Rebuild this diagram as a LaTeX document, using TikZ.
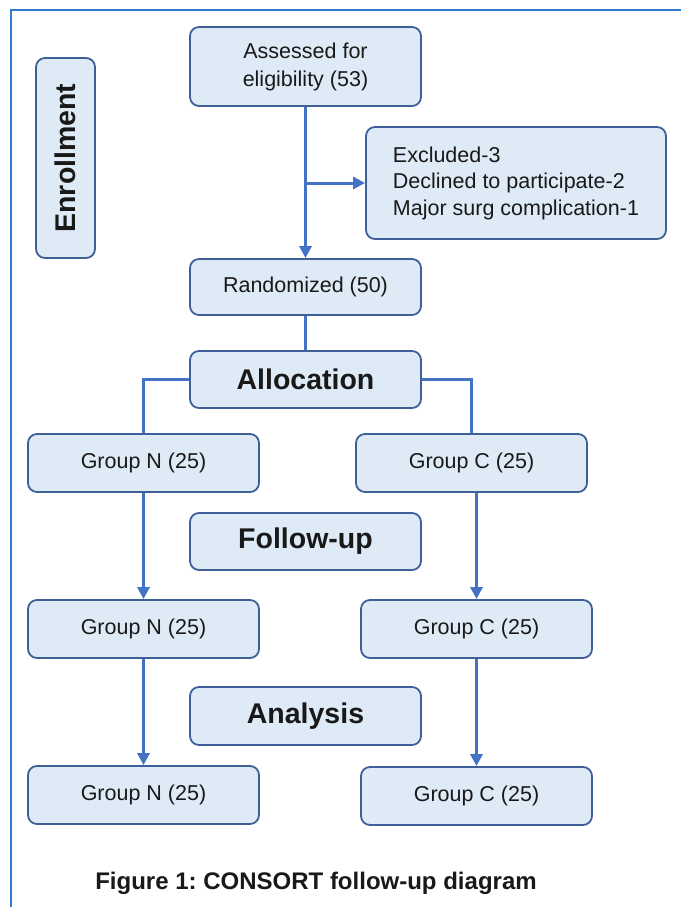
\documentclass[tikz,border=0pt]{standalone}
\usepackage{fontspec}
\setmainfont{Liberation Sans}
\usetikzlibrary{arrows.meta}
\definecolor{boxfill}{HTML}{DEEBF7}
\definecolor{boxline}{HTML}{3F5F98}
\definecolor{conn}{HTML}{4472C4}
\definecolor{framec}{HTML}{2E7BCF}
\frenchspacing
\tikzset{
  box/.style={draw=boxline, line width=1.8pt, fill=boxfill, rounded corners=9pt,
    minimum width=231pt, minimum height=58pt, inner sep=0pt,
    font=\fontsize{21.5}{28}\selectfont, text=black!90},
  headbox/.style={box, font=\fontsize{28.5}{32}\selectfont\bfseries},
  conline/.style={draw=conn, line width=3pt},
  arr/.style={conline, -{Triangle[length=12pt,width=12pt]}},
}
\begin{document}
\begin{tikzpicture}[x=1pt,y=-1pt]
\useasboundingbox (0,0) rectangle (681,907);
\fill[white] (0,0) rectangle (681,907);
\draw[framec, line width=1.5pt] (681,10) -- (11,10) -- (11,907);

\node[headbox, minimum width=200pt, minimum height=59pt, rotate=90] (enr) at (65.5,158) {Enrollment};
\node[box, minimum height=79pt, align=center] (ass) at (305.5,66.5) {Assessed for\\eligibility (53)};
\node[box, minimum width=300pt, minimum height=112pt, align=left,
      font=\fontsize{21.5}{26.5}\selectfont] (exc) at (516,183)
      {Excluded-3\\Declined to participate-2\\Major surg complication-1};
\node[box, minimum height=56pt] (ran) at (305.5,287) {Randomized (50)};
\node[headbox, minimum height=57pt] (alo) at (305.5,379.5) {Allocation};
\node[box] (gn1) at (143.5,463) {Group N (25)};
\node[box] (gc1) at (471.5,463) {Group C (25)};
\node[headbox, minimum height=57pt] (fol) at (305.5,541.5) {Follow-up};
\node[box] (gn2) at (143.5,629) {Group N (25)};
\node[box] (gc2) at (476.5,629) {Group C (25)};
\node[headbox] (ana) at (305.5,716) {Analysis};
\node[box] (gn3) at (143.5,795) {Group N (25)};
\node[box] (gc3) at (476.5,796) {Group C (25)};
\node[font=\fontsize{24}{28}\selectfont\bfseries, text=black!90] (cap) at (316,883) {Figure 1: CONSORT follow-up diagram};

\coordinate (br) at (ass.south |- exc.west);
\draw[arr] (ass.south) -- (ran.north);
\draw[arr] (br) -- (exc.west);
\draw[conline] (ran.south) -- (alo.north);
\draw[conline] (alo.west) -| (gn1.north);
\draw[conline] (alo.east) -| (gc1.north);
\draw[arr] (gn1.south) -- (gn2.north);
\draw[arr] (gc1.south -| gc2.north) -- (gc2.north);
\draw[arr] (gn2.south) -- (gn3.north);
\draw[arr] (gc2.south) -- (gc3.north);
\end{tikzpicture}
\end{document}
